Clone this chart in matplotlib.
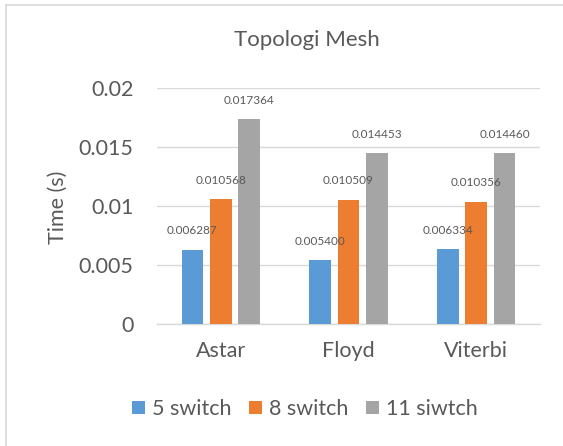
import matplotlib
matplotlib.use("Agg")
import matplotlib.pyplot as plt
import numpy as np
from matplotlib.patches import Patch
from matplotlib.lines import Line2D

categories = ["Astar", "Floyd", "Viterbi"]
series_names = ["5 switch", "8 switch", "11 siwtch"]
s5 = [0.006287, 0.005400, 0.006334]
s8 = [0.010568, 0.010509, 0.010356]
s11 = [0.017364, 0.014453, 0.014460]
yticks = [0, 0.005, 0.01, 0.015, 0.02]
ytick_labels = ["0", "0.005", "0.01", "0.015", "0.02"]
colors = ["#5B9BD5", "#ED7D31", "#A5A5A5"]
title = "Topologi Mesh"
ylabel = "Time (s)"

W, H = 563, 446
plt.rcParams['font.family'] = ['Lato', 'DejaVu Sans']
txt = "#595959"

fig = plt.figure(figsize=(W / 100, H / 100), dpi=100)
ax = fig.add_axes([157 / W, 1 - 324 / H, (540 - 157) / W, (324 - 88) / H])

x = np.arange(len(categories))
offsets = [-0.222, 0.0, 0.222]
width = 0.172
for i, (vals, name) in enumerate(zip([s5, s8, s11], series_names)):
    xs = x + offsets[i]
    ax.bar(xs, vals, width=width, color=colors[i], zorder=3, label=name)
    for xi, v in zip(xs, vals):
        ax.annotate(f"{v:.6f}", (xi, v), xytext=(0, 13.7), textcoords="offset points",
                    ha="center", va="center", fontsize=8.5, color=txt, zorder=4)

ax.set_xlim(-0.5, len(categories) - 0.5)
ax.set_ylim(0, 0.02)
ax.set_yticks(yticks)
ax.set_yticklabels(ytick_labels)
ax.set_xticks(x)
ax.set_xticklabels(categories)
ax.tick_params(axis="y", length=0, pad=17, labelsize=15.5, labelcolor=txt)
ax.tick_params(axis="x", length=0, pad=12, labelsize=15.5, labelcolor=txt)
ax.grid(axis="y", color="#D9D9D9", linewidth=1.0, zorder=0)
for s in ["top", "right", "left"]:
    ax.spines[s].set_visible(False)
ax.spines["bottom"].set_color("#D9D9D9")
ax.spines["bottom"].set_linewidth(1.0)
ax.set_facecolor("none")

fig.text(58 / W, 1 - 207 / H, ylabel, rotation=90, ha="center", va="center",
         fontsize=15.5, color=txt)
fig.text(307 / W, 1 - 40 / H, title, ha="center", va="center", fontsize=16, color=txt)

handles = [Patch(facecolor=c, edgecolor="none") for c in colors]
leg = fig.legend(handles, series_names, loc="center", bbox_to_anchor=(305 / W, 1 - 409 / H),
                 ncol=3, frameon=False, fontsize=15.5, handlelength=0.6, handleheight=0.6,
                 handletextpad=0.33, columnspacing=0.8, labelcolor=txt)

# cropped chart border (left and top visible)
fig.add_artist(Line2D([6 / W, 6 / W], [0, 1 - 5 / H], color="#D9D9D9", linewidth=1.2,
                      transform=fig.transFigure))
fig.add_artist(Line2D([6 / W, 1], [1 - 5 / H, 1 - 5 / H], color="#D9D9D9", linewidth=1.2,
                      transform=fig.transFigure))

fig.savefig("out.png", dpi=100)
